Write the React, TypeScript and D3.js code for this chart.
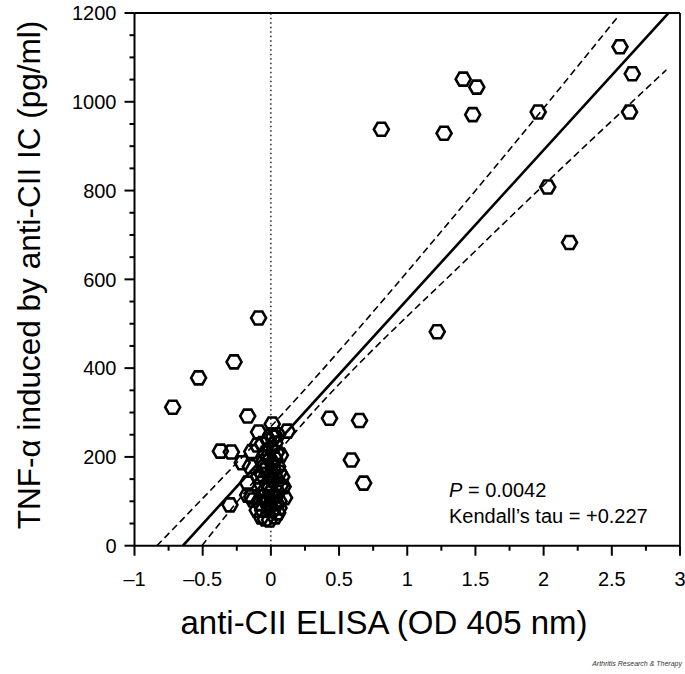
import React from "react";
import * as d3 from "d3";

const W = 685;
const H = 674;

// x: anti-CII ELISA (OD 405 nm); y: TNF-alpha (pg/ml)
const pointX = [
  2.56, 2.65, 2.63, 1.41, 1.51, 1.48, 1.27, 1.96, 2.03, 2.19, 0.81, 1.22, 0.43, 0.65, 0.59, 0.68,
  -0.09, -0.27, -0.53, -0.72, -0.17, 0.01, 0.12, -0.09, -0.37, -0.29, -0.21, -0.14, -0.3, -0.14, 0.1,
  -0.15, -0.1, -0.09, -0.17, -0.17,
  -0.1, -0.07, -0.01, 0.05, 0.09, 0.08, 0.05, 0.07, 0.03, -0.02, -0.04, 0.01, -0.04, 0.01, -0.04, 0.02,
  -0.03, 0.01, -0.06, -0.13,
  0.0, -0.02, 0.03, 0.0, 0.04, -0.02, 0.0, 0.04, -0.05, 0.05, -0.01, 0.03, -0.04, 0.06, 0.02, -0.05,
  0.06, -0.07, 0.0,
  -0.06, 0.05, -0.03, 0.04, 0.06, -0.08, 0.02, -0.01, 0.03, -0.06, 0.07, -0.02,
];
const pointY = [
  1124, 1063, 977, 1051, 1033, 971, 929, 977, 808, 683, 938, 482, 287, 282, 193, 141,
  513, 414, 378, 312, 292, 274, 258, 256, 213, 211, 187, 212, 92, 110, 108,
  178, 227, 155, 141, 114,
  80, 65, 58, 74, 133, 155, 178, 204, 231, 238, 209, 186, 171, 148, 126, 110,
  96, 80, 80, 103,
  220, 200, 195, 160, 140, 140, 120, 95, 110, 120, 90, 65, 60, 100, 245, 190,
  165, 140, 250,
  230, 250, 175, 210, 85, 95, 170, 130, 155, 160, 135, 105,
];

// regression line and its confidence band
const regX = [-0.645, 2.925];
const regY = [0, 1203];
const upperBandX = [-0.836, 0.214, 1.533, 2.546];
const upperBandY = [0, 340, 812, 1192];
const lowerBandX = [-0.506, 0.214, 1.533, 2.9];
const lowerBandY = [0, 268, 674, 1072];

const xTicks = [-1, -0.5, 0, 0.5, 1, 1.5, 2, 2.5, 3];
const xTickLabels = ["\u20131", "\u20130.5", "0", "0.5", "1", "1.5", "2", "2.5", "3"];
const xMinorTicks = [-0.75, -0.25, 0.25, 0.75, 1.25, 1.75, 2.25, 2.75];
const yTicks = [0, 200, 400, 600, 800, 1000, 1200];
const yMinorTicks = [50, 100, 150, 250, 300, 350, 450, 500, 550, 650, 700, 750, 850, 900, 950, 1050, 1100, 1150];

const FONT = "'Liberation Sans', Arial, sans-serif";

export default function App() {
  const x = d3.scaleLinear().domain([-1, 3]).range([134.5, 680]);
  const y = d3.scaleLinear().domain([0, 1200]).range([545.7, 13]);
  const x0 = x(-1), x1 = x(3), y0 = y(0), y1 = y(1200);

  const line = d3.line<[number, number]>().x((d) => x(d[0])).y((d) => y(d[1]));
  const curve = d3
    .line<[number, number]>()
    .x((d) => x(d[0]))
    .y((d) => y(d[1]))
    .curve(d3.curveMonotoneX);

  const regPts = regX.map((v, i) => [v, regY[i]] as [number, number]);
  const upPts = upperBandX.map((v, i) => [v, upperBandY[i]] as [number, number]);
  const loPts = lowerBandX.map((v, i) => [v, lowerBandY[i]] as [number, number]);

  const r = 7.5;
  const hex = d3.range(6).map((k) => {
    const a = (Math.PI / 3) * k;
    return [r * Math.cos(a), r * Math.sin(a)] as [number, number];
  });
  const hexPath = "M" + hex.map((p) => p.join(",")).join("L") + "Z";

  return (
    <svg
      width={W}
      height={H}
      viewBox={`0 0 ${W} ${H}`}
      style={{ position: "absolute", left: 0, top: 0, background: "#fff", display: "block" }}
    >
      <rect x={0} y={0} width={W} height={H} fill="#fff" />
      <defs>
        <clipPath id="plotclip">
          <rect x={x0} y={y1} width={x1 - x0} height={y0 - y1} />
        </clipPath>
      </defs>

      {/* zero reference */}
      <line x1={x(0)} x2={x(0)} y1={y0} y2={y1} stroke="#000" strokeWidth={1.3} strokeDasharray="1.5,3" />

      <g clipPath="url(#plotclip)">
        <path d={curve(upPts) || ""} fill="none" stroke="#000" strokeWidth={1.6} strokeDasharray="7,4" />
        <path d={curve(loPts) || ""} fill="none" stroke="#000" strokeWidth={1.6} strokeDasharray="7,4" />
        <path d={line(regPts) || ""} fill="none" stroke="#000" strokeWidth={2.6} />
      </g>

      {/* points */}
      <g>
        {pointX.map((v, i) => (
          <path
            key={i}
            d={hexPath}
            transform={`translate(${x(v)},${y(pointY[i])})`}
            fill="none"
            stroke="#000"
            strokeWidth={2.6}
          />
        ))}
      </g>

      {/* frame */}
      <line x1={x0} x2={x1} y1={y1} y2={y1} stroke="#000" strokeWidth={1.8} />
      <line x1={x1} x2={x1} y1={y1} y2={y0} stroke="#000" strokeWidth={1.8} />
      <line x1={x0} x2={x1} y1={y0} y2={y0} stroke="#000" strokeWidth={2} />
      <line x1={x0} x2={x0} y1={y1} y2={y0} stroke="#000" strokeWidth={2} />

      {/* x ticks */}
      {xTicks.map((t, i) => (
        <g key={"xt" + i}>
          <line x1={x(t)} x2={x(t)} y1={y0} y2={y0 + 10} stroke="#000" strokeWidth={2} />
          <text x={x(t)} y={y0 + 40} textAnchor="middle" fontFamily={FONT} fontSize={20} fill="#000">
            {xTickLabels[i]}
          </text>
        </g>
      ))}
      {xMinorTicks.map((t, i) => (
        <line key={"xm" + i} x1={x(t)} x2={x(t)} y1={y0} y2={y0 + 5} stroke="#000" strokeWidth={2} />
      ))}

      {/* y ticks */}
      {yTicks.map((t, i) => (
        <g key={"yt" + i}>
          <line x1={x0 - 10} x2={x0} y1={y(t)} y2={y(t)} stroke="#000" strokeWidth={2} />
          <text x={x0 - 18} y={y(t)} dy="0.36em" textAnchor="end" fontFamily={FONT} fontSize={20} fill="#000">
            {t}
          </text>
        </g>
      ))}
      {yMinorTicks.map((t, i) => (
        <line key={"ym" + i} x1={x0 - 5} x2={x0} y1={y(t)} y2={y(t)} stroke="#000" strokeWidth={2} />
      ))}

      {/* annotation */}
      <text x={449} y={497} fontFamily={FONT} fontSize={20} fill="#000">
        <tspan fontStyle="italic">P</tspan>
        <tspan> = 0.0042</tspan>
      </text>
      <text x={449} y={523} fontFamily={FONT} fontSize={20} fill="#000">
        Kendall’s tau = +0.227
      </text>

      {/* axis titles */}
      <text x={384} y={634} textAnchor="middle" fontFamily={FONT} fontSize={33} fill="#000">
        anti-CII ELISA (OD 405 nm)
      </text>
      <text
        transform={`translate(40,275) rotate(-90)`}
        textAnchor="middle"
        fontFamily={FONT}
        fontSize={31.5}
        fill="#000"
      >
        TNF-α induced by anti-CII IC (pg/ml)
      </text>

      <text x={682} y={666} textAnchor="end" fontFamily={FONT} fontSize={7} fontStyle="italic" fill="#333">
        Arthritis Research &amp; Therapy
      </text>
    </svg>
  );
}
